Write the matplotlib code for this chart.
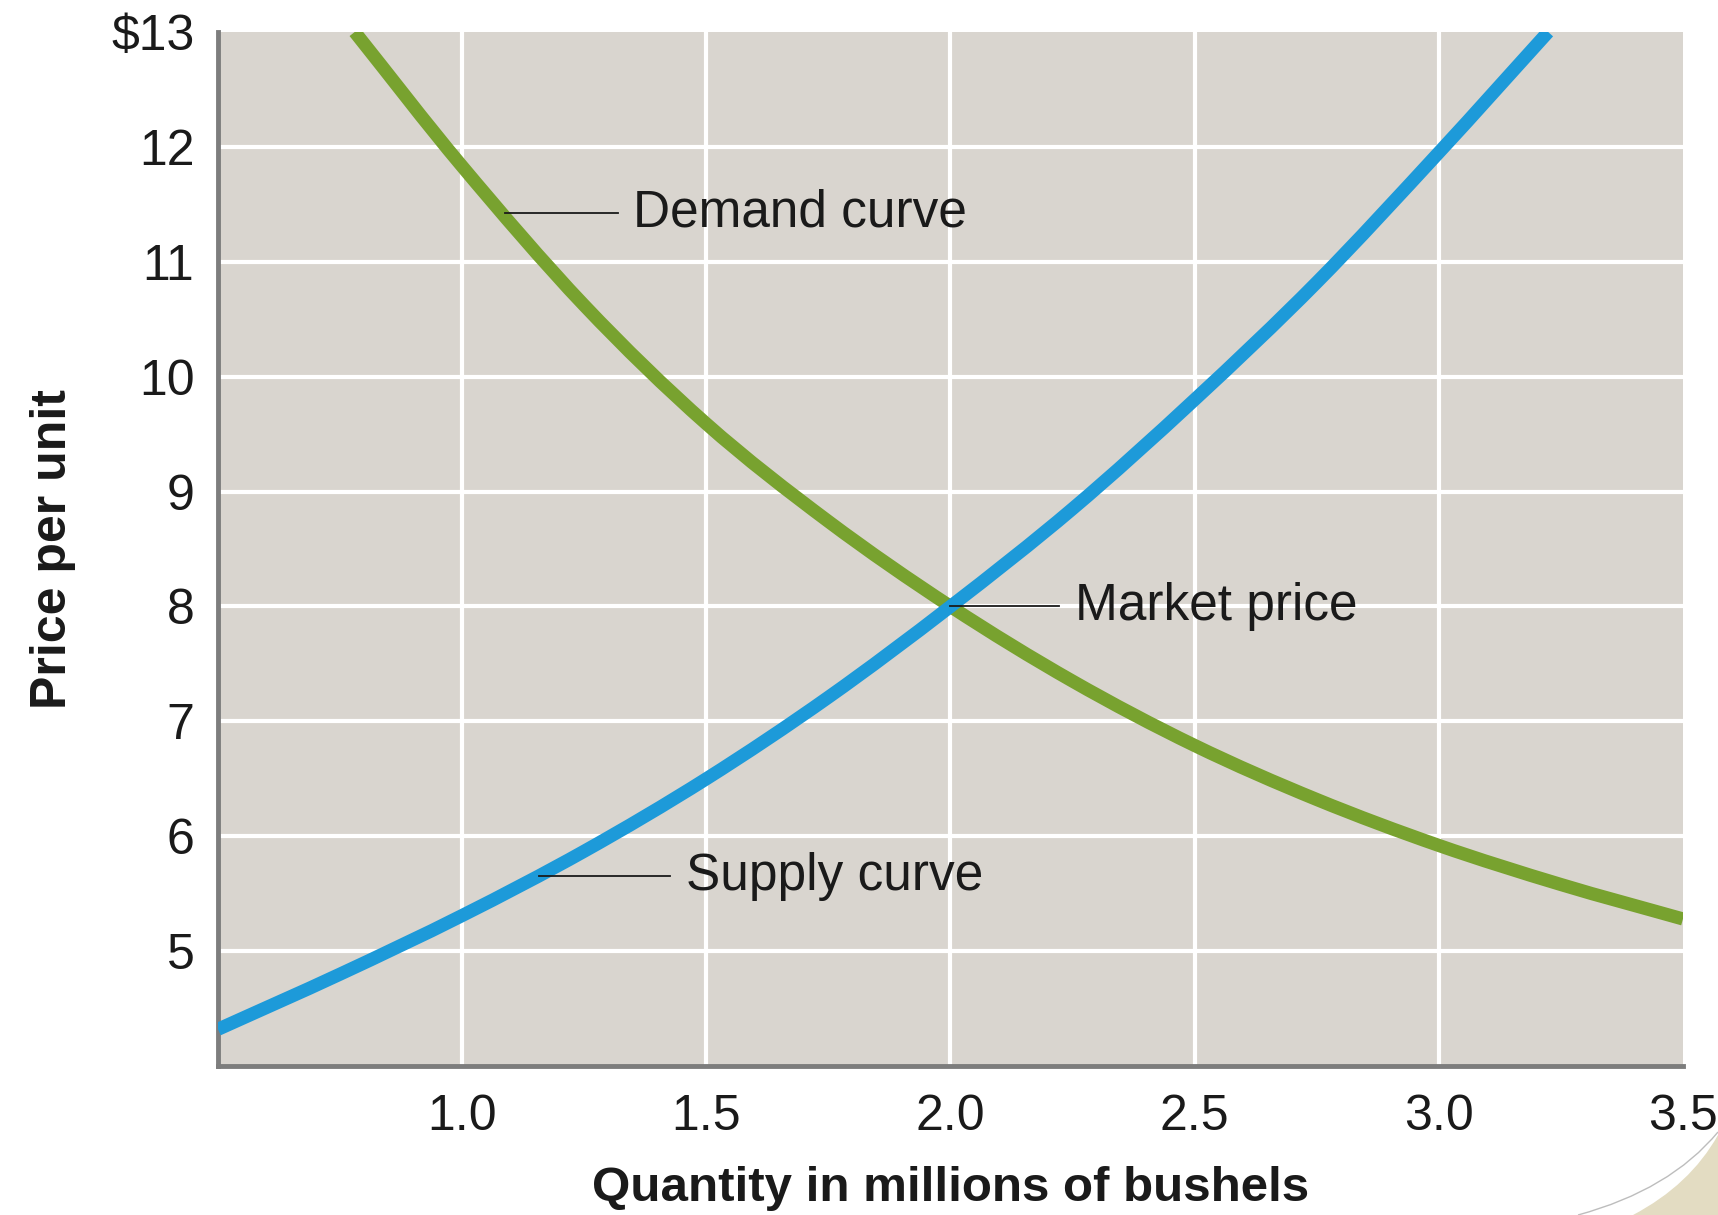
import numpy as np
import matplotlib
matplotlib.use('Agg')
import matplotlib.pyplot as plt
from matplotlib.path import Path
from matplotlib.patches import PathPatch

plt.rcParams['font.family'] = ['Liberation Sans', 'DejaVu Sans']

# curves (quantity in millions of bushels, price per unit)
demand_q = [0.78, 1.0, 1.25, 1.5, 1.75, 2.0, 2.25, 2.5, 2.75, 3.0, 3.25, 3.5]
demand_p = [13.0, 11.83, 10.62, 9.59, 8.74, 8.0, 7.35, 6.79, 6.32, 5.92, 5.58, 5.28]

supply_q = [0.5, 0.75, 1.0, 1.25, 1.5, 1.75, 2.0, 2.25, 2.5, 2.75, 3.0, 3.224]
supply_p = [4.32, 4.80, 5.31, 5.87, 6.50, 7.21, 8.0, 8.85, 9.80, 10.82, 11.95, 13.0]

x_ticks = [1.0, 1.5, 2.0, 2.5, 3.0, 3.5]
x_labels = ['1.0', '1.5', '2.0', '2.5', '3.0', '3.5']
y_ticks = [5, 6, 7, 8, 9, 10, 11, 12, 13]
y_labels = ['5', '6', '7', '8', '9', '10', '11', '12', '$13']

market_q, market_p = 2.0, 8.0

bg = '#d9d5cf'
green = '#78a22f'
blue = '#1d9ad9'
ink = '#1a1a1a'


def smooth_path(xs, ys):
    # catmull-rom through the read points, drawn as cubic bezier segments
    pts = np.column_stack([xs, ys])
    ext = np.vstack([2 * pts[0] - pts[1], pts, 2 * pts[-1] - pts[-2]])
    verts = [pts[0]]
    codes = [Path.MOVETO]
    for i in range(1, len(ext) - 2):
        p0, p1, p2, p3 = ext[i - 1], ext[i], ext[i + 1], ext[i + 2]
        verts += [p1 + (p2 - p0) / 6, p2 - (p3 - p1) / 6, p2]
        codes += [Path.CURVE4] * 3
    return Path(verts, codes)


fig = plt.figure(figsize=(17.18, 12.15), dpi=100)
ax = fig.add_axes([0.1269, 0.1226, 0.8527, 0.8511])
ax.set_facecolor(bg)

# white grid, only inside the plot area
for yv in y_ticks[:-1]:
    ax.axhline(yv, color='white', lw=3, zorder=1)
for xv in x_ticks[:-1]:
    ax.axvline(xv, color='white', lw=3, zorder=1)

ax.add_patch(PathPatch(smooth_path(demand_q, demand_p), facecolor='none', edgecolor=green,
                       lw=9.5, capstyle='butt', zorder=3))
ax.add_patch(PathPatch(smooth_path(supply_q, supply_p), facecolor='none', edgecolor=blue,
                       lw=9.5, capstyle='butt', zorder=4))

# leader lines + labels
ax.plot([1.088, 1.319], [11.42, 11.42], color=ink, lw=1.3, zorder=5)
ax.text(1.35, 11.42, 'Demand curve', fontsize=37, color=ink, va='center', ha='left')
ax.plot([1.158, 1.426], [5.65, 5.65], color=ink, lw=1.3, zorder=5)
ax.text(1.458, 5.65, 'Supply curve', fontsize=37, color=ink, va='center', ha='left')
ax.plot([market_q, 2.222], [market_p, market_p], color=ink, lw=1.3, zorder=5)
ax.text(2.256, market_p, 'Market price', fontsize=37, color=ink, va='center', ha='left')

ax.set_xlim(0.5, 3.5)
ax.set_ylim(4, 13)
ax.set_xticks(x_ticks)
ax.set_xticklabels(x_labels)
ax.set_yticks(y_ticks)
ax.set_yticklabels(y_labels)
ax.tick_params(axis='both', length=0, labelsize=36, labelcolor=ink)
ax.tick_params(axis='x', pad=20)
ax.tick_params(axis='y', pad=17)

for s in ['top', 'right']:
    ax.spines[s].set_visible(False)
for s in ['left', 'bottom']:
    ax.spines[s].set_color('#7d7d7d')
    ax.spines[s].set_linewidth(3.5)

fig.text(0.5535, 0.022, 'Quantity in millions of bushels', fontsize=35.5, fontweight='bold',
         color=ink, ha='center', va='center')
fig.text(0.031, 0.548, 'Price per unit', fontsize=36, fontweight='bold', color=ink,
         ha='center', va='center', rotation=90)

# page curl in the bottom right corner
W, H = 1718.0, 1215.0
def fp(x, y):
    return (x / W, 1 - y / H)

curl = Path([fp(1633, 1215), fp(1690, 1185), fp(1718, 1135), fp(1718, 1215), fp(1633, 1215)],
            [Path.MOVETO, Path.CURVE3, Path.CURVE3, Path.LINETO, Path.CLOSEPOLY])
fig.patches.append(PathPatch(curl, transform=fig.transFigure, facecolor='#e3dcc2',
                             edgecolor='none'))
arc = Path([fp(1578, 1215), fp(1670, 1190), fp(1718, 1132)],
           [Path.MOVETO, Path.CURVE3, Path.CURVE3])
fig.patches.append(PathPatch(arc, transform=fig.transFigure, facecolor='none',
                             edgecolor='#bdbdbd', lw=1))

fig.savefig('out.png', dpi=100, facecolor='white')
